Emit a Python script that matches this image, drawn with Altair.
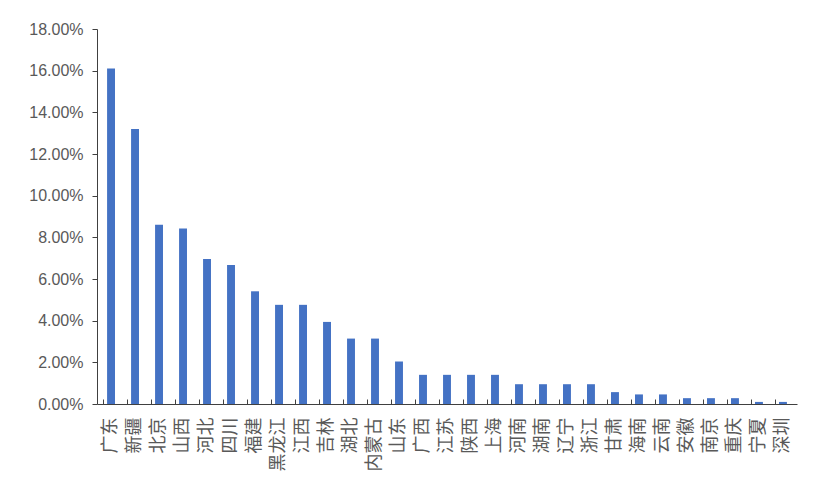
import pandas as pd
import altair as alt

# provinces and their share
provinces = ["广东", "新疆", "北京", "山西", "河北", "四川", "福建", "黑龙江", "江西", "吉林",
             "湖北", "内蒙古", "山东", "广西", "江苏", "陕西", "上海", "河南", "湖南", "辽宁",
             "浙江", "甘肃", "海南", "云南", "安徽", "南京", "重庆", "宁夏", "深圳"]
shares = [0.161, 0.132, 0.086, 0.0843, 0.0696, 0.0667, 0.0541, 0.0476, 0.0476, 0.0394,
          0.0314, 0.0314, 0.0204, 0.0140, 0.0140, 0.0140, 0.0140, 0.0095, 0.0095, 0.0095,
          0.0095, 0.0057, 0.0046, 0.0046, 0.0028, 0.0028, 0.0028, 0.0010, 0.0010]
y_ticks = [0, 0.02, 0.04, 0.06, 0.08, 0.10, 0.12, 0.14, 0.16, 0.18]

df = pd.DataFrame({"省份": provinces, "占比": shares})

W, H = 700, 375
axis_color = "#404040"
label_color = "#595959"

x_scale = alt.Scale(paddingInner=0.67, paddingOuter=0.42)

# bars with the bottom axis (labels only) and the y axis
bars = alt.Chart(df).mark_bar(color="#4472C4").encode(
    x=alt.X("省份:N", sort=provinces, scale=x_scale,
            axis=alt.Axis(title=None, labelAngle=270, labelAlign="right",
                          labelBaseline="middle", ticks=False, labelPadding=13,
                          labelFont="Noto Sans CJK SC", labelFontSize=18,
                          labelColor=label_color, domainColor=axis_color)),
    y=alt.Y("占比:Q", scale=alt.Scale(domain=[0, 0.18], nice=False),
            axis=alt.Axis(title=None, values=y_ticks, format=".2%", grid=False,
                          tickSize=5, labelPadding=9, labelFont="Liberation Sans",
                          labelFontSize=16, labelColor=label_color,
                          domainColor=axis_color, tickColor=axis_color))
)

# invisible layer carrying a second x axis, moved down onto the baseline
# so that its ticks point up between the bars, as in the original
tick_axis = alt.Chart(df).mark_rule(opacity=0).encode(
    x=alt.X("省份:N", sort=provinces, scale=x_scale,
            axis=alt.Axis(title=None, orient="top", offset=-H, labels=False,
                          domain=False, tickSize=5, tickOffset=-8,
                          tickColor=axis_color))
)

chart = alt.layer(bars, tick_axis).resolve_axis(x="independent").properties(
    width=W, height=H,
    autosize=alt.AutoSizeParams(type="none"),
    padding={"left": 89, "top": 21, "right": 16, "bottom": 79},
    background="white"
).configure_view(stroke=None)

chart.save("out.html", embed_options={"renderer": "svg", "actions": False})
